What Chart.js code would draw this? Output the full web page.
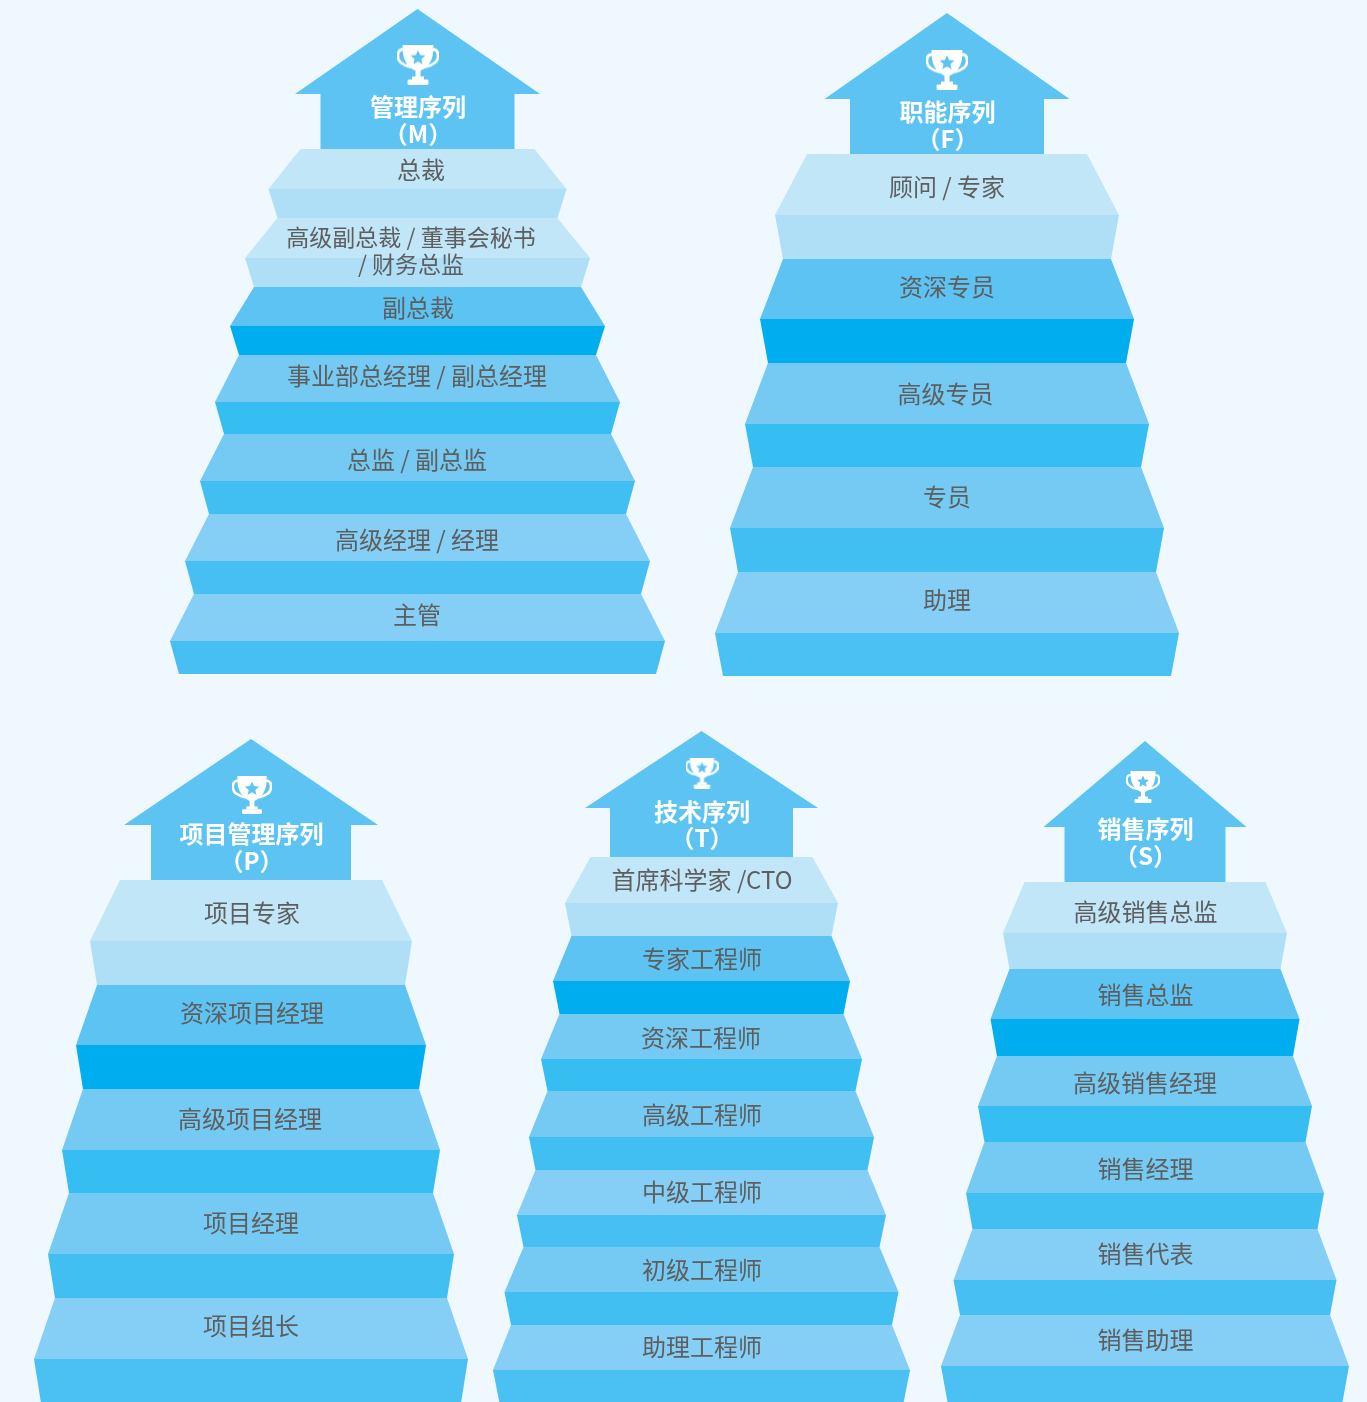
<!DOCTYPE html>
<html><head><meta charset="utf-8">
<style>html,body{margin:0;padding:0;background:#EFF8FF;overflow:hidden}canvas{display:block}</style>
<script src="https://cdn.jsdelivr.net/npm/chart.js@4"></script>
</head><body><canvas id="c" width="1367" height="1402"></canvas>
<script>
// ---- data: level names, half widths and band heights, per ladder ----
const mTitle = ['管理序列', '（M）'];
const mLevels = ['总裁', '高级副总裁 / 董事会秘书|/ 财务总监', '副总裁', '事业部总经理 / 副总经理', '总监 / 副总监', '高级经理 / 经理', '主管'];
const mHalfWidths = [149, 172.5, 187.5, 202.5, 217.5, 232.5, 247.5];
const mFaceHeights = [40, 40, 39, 47, 47, 47, 47];
const mSideHeights = [29, 29, 29, 32, 33, 33, 33];

const fTitle = ['职能序列', '（F）'];
const fLevels = ['顾问 / 专家', '资深专员', '高级专员', '专员', '助理'];
const fHalfWidths = [172, 187, 202, 217, 232];
const fFaceHeights = [61, 60, 61, 61, 61];
const fSideHeights = [44, 44, 43, 44, 43];

const pTitle = ['项目管理序列', '（P）'];
const pLevels = ['项目专家', '资深项目经理', '高级项目经理', '项目经理', '项目组长'];
const pHalfWidths = [161, 175, 189, 203, 217];
const pFaceHeights = [61, 60, 61, 61, 61];
const pSideHeights = [44, 44, 43, 44, 44];

const tTitle = ['技术序列', '（T）'];
const tLevels = ['首席科学家 /CTO', '专家工程师', '资深工程师', '高级工程师', '中级工程师', '初级工程师', '助理工程师'];
const tHalfWidths = [136.5, 148.5, 160.5, 172.5, 184.5, 197, 208.5];
const tFaceHeights = [46, 45, 45, 46, 45, 45, 45];
const tSideHeights = [33, 33, 32, 33, 32, 33, 33];

const sTitle = ['销售序列', '（S）'];
const sLevels = ['高级销售总监', '销售总监', '高级销售经理', '销售经理', '销售代表', '销售助理'];
const sHalfWidths = [142, 154.5, 167, 179, 191.5, 204];
const sFaceHeights = [51, 50, 50, 51, 51, 51];
const sSideHeights = [36, 37, 36, 36, 35, 36];

// ---- layout and style, kept apart from the data ----
const PAL = { light:['#C1E6F8','#AEDFF7'], strong:['#5CC3F3','#00AEEF'], mid:['#74CAF3','#36BDF2'], mid2:['#74CAF3','#41BEF2'], pale:['#85CFF7','#47BFF3'], pale2:['#85CFF7','#4AC0F3'], house:'#5CC3F3' };
const ladders = [
 { title:mTitle, levels:mLevels, half:mHalfWidths, face:mFaceHeights, side:mSideHeights,
   cx:417.5, top:149, firstHalf:117, inset:9, tip:140, wingY:55, wingHalf:122.5, bodyHalf:97,
   tiers:['light','light','strong','mid','mid2','pale','pale'], trophy:[418,64.5,42], titleX:418, titleY:[107,133.5],
   labelX:[421,411,418,417,417,417,417], labelY:[170,[237,264],308,376,460,540,615], labelSize:[24,23,24,24,24,24,24] },
 { title:fTitle, levels:fLevels, half:fHalfWidths, face:fFaceHeights, side:fSideHeights,
   cx:947, top:154, firstHalf:140, inset:8, tip:141, wingY:55, wingHalf:122.5, bodyHalf:97,
   tiers:['light','strong','mid','mid2','pale2'], trophy:[947,69.5,42], titleX:947.5, titleY:[112,138.5],
   labelX:[947,947,945.5,947,947], labelY:[187,287,394,497,600] },
 { title:pTitle, levels:pLevels, half:pHalfWidths, face:pFaceHeights, side:pSideHeights,
   cx:251, top:880, firstHalf:131, inset:7, tip:141, wingY:55, wingHalf:127, bodyHalf:100,
   tiers:['light','strong','mid','mid2','pale2'], trophy:[252,795,40], titleX:251.5, titleY:[834,860.5],
   labelX:[252,252,250,251,251], labelY:[913,1013,1119,1223,1326] },
 { title:tTitle, levels:tLevels, half:tHalfWidths, face:tFaceHeights, side:tSideHeights,
   cx:701.5, top:857, firstHalf:111, inset:6.5, tip:126, wingY:49, wingHalf:116.5, bodyHalf:91.5,
   tiers:['light','strong','mid','mid2','pale','mid2','pale2'], trophy:[702,773,33], titleX:702, titleY:[812,838],
   labelX:[702,702,701,702,702,702,702], labelY:[879.5,959,1038,1115,1192,1270,1347] },
 { title:sTitle, levels:sLevels, half:sHalfWidths, face:sFaceHeights, side:sSideHeights,
   cx:1145, top:882, firstHalf:120.5, inset:6.5, tip:141, wingY:55, wingHalf:101.5, bodyHalf:80.5,
   tiers:['light','strong','mid','mid2','pale','pale2'], trophy:[1143,787,34], titleX:1145.5, titleY:[829,855.5],
   labelX:[1145.5,1145.5,1145,1145.5,1145.5,1145.5], labelY:[912,995,1083,1169,1254,1340] }
];

function poly(pts, color){
  return { data: pts.map(p=>({x:p[0],y:p[1]})), polygonFill:color, showLine:false, pointRadius:0, pointHoverRadius:0, borderWidth:0 };
}
const datasets = [];
ladders.forEach(L=>{
  const c=L.cx, t=L.top;
  datasets.push(poly([[c,t-L.tip],[c+L.wingHalf,t-L.wingY],[c+L.bodyHalf,t-L.wingY],[c+L.bodyHalf,t],[c-L.bodyHalf,t],[c-L.bodyHalf,t-L.wingY],[c-L.wingHalf,t-L.wingY]], PAL.house));
  let y=t, h=L.firstHalf;
  L.half.forEach((mid,i)=>{
    const m=y+L.face[i], b=m+L.side[i], bh=mid-L.inset, col=PAL[L.tiers[i]];
    datasets.push(poly([[c-h,y],[c+h,y],[c+mid,m],[c-mid,m]], col[0]));
    datasets.push(poly([[c-mid,m],[c+mid,m],[c+bh,b],[c-bh,b]], col[1]));
    y=b; h=bh;
  });
});

function trophyCanvas(w){
  const cv=document.createElement('canvas'); const H=Math.round(w*40/42);
  cv.width=w; cv.height=H; const g=cv.getContext('2d'); g.scale(w/42,H/40);
  g.fillStyle='#fff'; g.strokeStyle='#fff'; g.lineWidth=2.8;
  g.beginPath(); g.moveTo(6,5); g.bezierCurveTo(-0.5,5,-0.5,15,4.5,18.5); g.bezierCurveTo(7,20.5,10,22,14,22.5); g.stroke();
  g.beginPath(); g.moveTo(36,5); g.bezierCurveTo(42.5,5,42.5,15,37.5,18.5); g.bezierCurveTo(35,20.5,32,22,28,22.5); g.stroke();
  g.beginPath(); g.moveTo(5.5,0); g.lineTo(36.5,0); g.lineTo(36,9); g.bezierCurveTo(35,18,29,24,24,26); g.lineTo(18,26); g.bezierCurveTo(13,24,7,18,6,9); g.closePath(); g.fill();
  g.fillRect(18.5,25,5,9); g.fillRect(15,32,12,3);
  g.beginPath(); g.roundRect(10.5,35,21,5,1.5); g.fill();
  g.globalCompositeOperation='destination-out';
  g.beginPath();
  for(let i=0;i<10;i++){ const r=i%2?3.6:7.8, a=-Math.PI/2+i*Math.PI/5, x=21+r*Math.cos(a), y=13.5+r*Math.sin(a); i?g.lineTo(x,y):g.moveTo(x,y); }
  g.closePath(); g.fill();
  return cv;
}
ladders.forEach(L=>{
  datasets.push({ data:[{x:L.trophy[0],y:L.trophy[1]}], showLine:false, pointStyle:trophyCanvas(L.trophy[2]), pointRadius:10, pointHoverRadius:10, order:-1 });
});

const polygonPlugin = {
  id:'polygonPlugin',
  beforeDatasetDraw(chart,args){
    const ds=chart.data.datasets[args.index]; if(!ds.polygonFill) return;
    const pts=chart.getDatasetMeta(args.index).data, ctx=chart.ctx;
    ctx.save(); ctx.fillStyle=ds.polygonFill; ctx.beginPath();
    pts.forEach((p,i)=> i?ctx.lineTo(p.x,p.y):ctx.moveTo(p.x,p.y));
    ctx.closePath(); ctx.fill(); ctx.restore();
  }
};
const CJK='"Noto Sans CJK SC","Noto Sans",sans-serif';
const textPlugin = {
  id:'textPlugin',
  afterDatasetsDraw(chart){
    const ctx=chart.ctx, X=chart.scales.x, Y=chart.scales.y;
    ctx.save(); ctx.textAlign='center'; ctx.textBaseline='middle';
    ladders.forEach(L=>{
      ctx.font='700 24px '+CJK; ctx.fillStyle='#FFFFFF';
      L.title.forEach((s,i)=>ctx.fillText(s,X.getPixelForValue(L.titleX),Y.getPixelForValue(L.titleY[i])));
      ctx.fillStyle='#5E5E5E';
      L.levels.forEach((s,i)=>{
        ctx.font='400 '+(L.labelSize?L.labelSize[i]:24)+'px '+CJK;
        const parts=s.split('|'), ys=[].concat(L.labelY[i]);
        parts.forEach((p,j)=>ctx.fillText(p,X.getPixelForValue(L.labelX[i]),Y.getPixelForValue(ys[j])));
      });
    });
    ctx.restore();
  }
};
new Chart(document.getElementById('c'),{
  type:'scatter',
  data:{datasets},
  options:{
    responsive:false, animation:false, events:[],
    layout:{padding:0,autoPadding:false},
    plugins:{legend:{display:false},tooltip:{enabled:false}},
    scales:{
      x:{type:'linear',min:0,max:1367,display:false},
      y:{type:'linear',min:0,max:1402,reverse:true,display:false}
    }
  },
  plugins:[polygonPlugin,textPlugin]
});
</script></body></html>
